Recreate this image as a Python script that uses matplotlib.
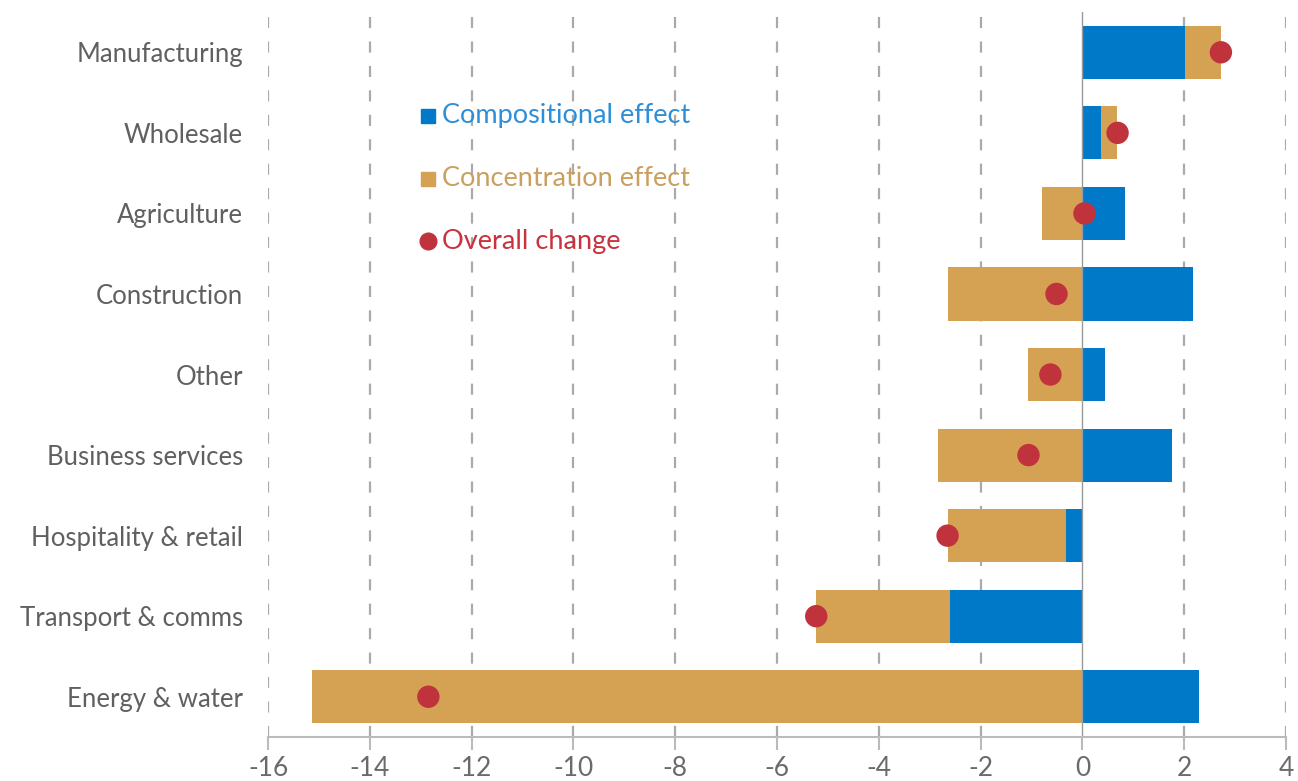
import numpy as np
import matplotlib
matplotlib.use("Agg")
import matplotlib.pyplot as plt

plt.rcParams['font.family'] = ['Lato', 'DejaVu Sans']

# Data (percentage points)
sectors = ['Manufacturing', 'Wholesale', 'Agriculture', 'Construction', 'Other',
           'Business services', 'Hospitality & retail', 'Transport & comms',
           'Energy & water']
compositional = [2.02, 0.37, 0.83, 2.18, 0.45, 1.75, -0.33, -2.61, 2.28]
concentration = [0.70, 0.31, -0.79, -2.65, -1.06, -2.83, -2.32, -2.62, -15.13]
overall = [2.72, 0.69, 0.04, -0.51, -0.63, -1.06, -2.65, -5.23, -12.85]
xticks = [-16, -14, -12, -10, -8, -6, -4, -2, 0, 2, 4]

blue = '#0079C8'
orange = '#D5A253'
red = '#C0333D'
grey = '#606060'

comp = np.array(compositional)
conc = np.array(concentration)
# concentration bar starts at the end of the compositional bar when both share a sign
left_conc = np.where(np.sign(comp) == np.sign(conc), comp, 0)

fig = plt.figure(figsize=(12.98, 7.81), dpi=100)
ax = fig.add_axes([0.2065, 0.0563, 0.7843, 0.9283])

y = np.arange(len(sectors))
ax.barh(y, comp, height=0.66, color=blue, zorder=2)
ax.barh(y, conc, left=left_conc, height=0.66, color=orange, zorder=2)
ax.scatter(overall, y, s=260, color=red, zorder=3, edgecolors='none')

ax.set_xlim(-16, 4)
ax.set_ylim(len(sectors) - 0.5, -0.5)
ax.set_xticks(xticks)
ax.set_xticklabels([str(t) for t in xticks])
ax.set_yticks(y)
ax.set_yticklabels(sectors)

for t in xticks:
    if t != 0:
        ax.axvline(t, color='#AAAAAA', lw=1.6, ls=(0, (5, 6)), zorder=1)
ax.axvline(0, color='#999999', lw=1.0, zorder=2.5)

for s in ['top', 'right', 'left']:
    ax.spines[s].set_visible(False)
ax.spines['bottom'].set_color('#BBBBBB')
ax.spines['bottom'].set_linewidth(1.5)
ax.tick_params(axis='x', colors='#BBBBBB', length=9, width=1.5, labelcolor='#6A6A6A',
               labelsize=19, pad=5)
ax.tick_params(axis='y', length=0, labelcolor=grey, labelsize=18.5, pad=18)

# Legend drawn as coloured text
leg = [('Compositional effect', blue, 's', '#2E8FD8'),
       ('Concentration effect', orange, 's', '#C9A060'),
       ('Overall change', red, 'o', '#C8333E')]
for i, (lab, col, mk, tcol) in enumerate(leg):
    yy = 1 - (116 + i * 62.5) / 781
    fig.add_artist(plt.Line2D([428 / 1298], [yy], marker=mk, color=col,
                              markersize=10 if mk == 's' else 12, ls='none',
                              transform=fig.transFigure))
    fig.text(442 / 1298, yy, lab, color=tcol, fontsize=19.5, va='center', ha='left')

fig.savefig('out.png', dpi=100)
